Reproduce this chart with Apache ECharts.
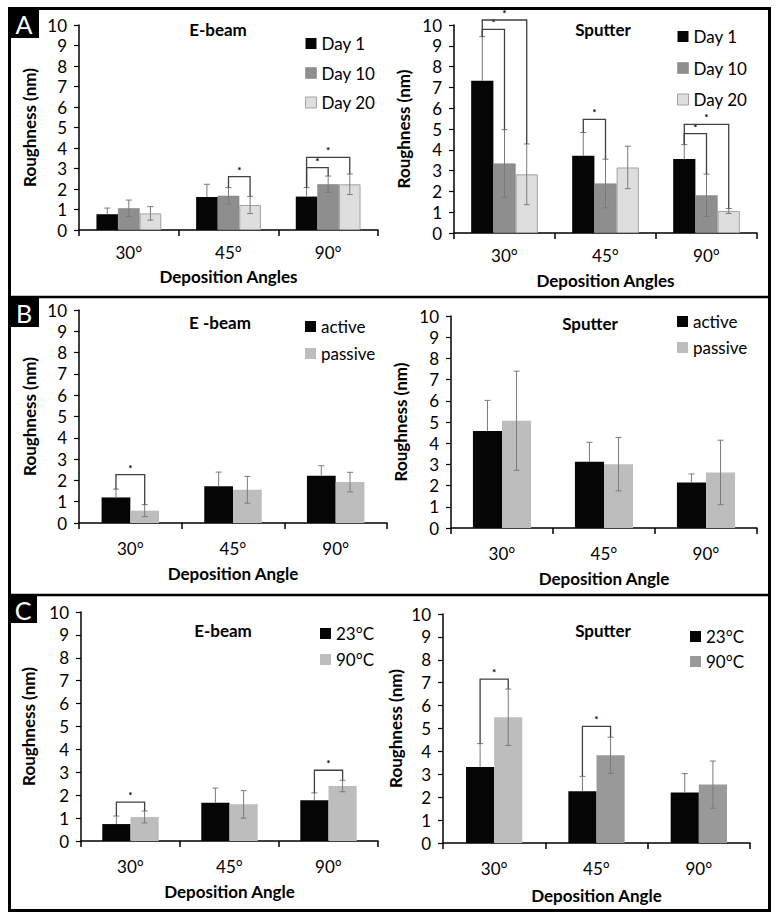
<!DOCTYPE html>
<html><head><meta charset="utf-8">
<script src="https://cdn.jsdelivr.net/npm/echarts@6/dist/echarts.min.js"></script>
<style>html,body{margin:0;padding:0;background:#fff}#c{width:781px;height:923px}</style>
</head><body><div id="c"></div>
<script>
const angles = ['30°', '45°', '90°'];

// Panel A – E-beam
const aEbeamDay1 = [0.77, 1.61, 1.63];
const aEbeamDay1Err = [0.30, 0.62, 0.44];
const aEbeamDay10 = [1.06, 1.67, 2.23];
const aEbeamDay10Err = [0.40, 0.40, 0.40];
const aEbeamDay20 = [0.81, 1.22, 2.23];
const aEbeamDay20Err = [0.33, 0.42, 0.50];
const aEbeamBrackets = [[1, 1, 2, 2.60], [2, 0, 1, 3.04], [2, 0, 2, 3.54]];
// Panel A – Sputter
const aSputDay1 = [7.32, 3.71, 3.56];
const aSputDay1Err = [2.12, 1.12, 0.69];
const aSputDay10 = [3.34, 2.38, 1.81];
const aSputDay10Err = [1.63, 1.17, 1.02];
const aSputDay20 = [2.82, 3.15, 1.06];
const aSputDay20Err = [1.46, 1.02, 0.12];
const aSputBrackets = [[0, 0, 1, 9.79], [0, 0, 2, 10.24], [1, 0, 1, 5.46], [2, 0, 1, 4.78], [2, 0, 2, 5.22]];
// Panel B – E-beam
const bEbeamActive = [1.20, 1.72, 2.22];
const bEbeamActiveErr = [0.39, 0.67, 0.47];
const bEbeamPassive = [0.58, 1.56, 1.92];
const bEbeamPassiveErr = [0.28, 0.63, 0.46];
const bEbeamBrackets = [[0, 0, 1, 2.27]];
// Panel B – Sputter
const bSputActive = [4.58, 3.13, 2.15];
const bSputActiveErr = [1.44, 0.91, 0.40];
const bSputPassive = [5.06, 3.01, 2.62];
const bSputPassiveErr = [2.34, 1.26, 1.52];
const bSputBrackets = [];
// Panel C – E-beam
const cEbeam23 = [0.74, 1.67, 1.78];
const cEbeam23Err = [0.35, 0.64, 0.32];
const cEbeam90 = [1.05, 1.60, 2.40];
const cEbeam90Err = [0.26, 0.60, 0.25];
const cEbeamBrackets = [[0, 0, 1, 1.70], [2, 0, 1, 3.09]];
// Panel C – Sputter
const cSput23 = [3.32, 2.26, 2.21];
const cSput23Err = [1.02, 0.65, 0.82];
const cSput90 = [5.49, 3.83, 2.55];
const cSput90Err = [1.23, 0.79, 1.03];
const cSputBrackets = [[0, 0, 1, 7.16], [1, 0, 1, 5.09]];

const FONT = 'Lato';
const BLACK = '#050505', DAY10 = '#8e8e8e', DAY20 = '#dedede', LIGHT = '#bdbdbd', MID = '#999999';

const chart = echarts.init(document.getElementById('c'), null, {renderer: 'svg'});

const grids = [], xAxes = [], yAxes = [], series = [], legends = [];

function errRender(n, frac) {
  return function (params, api) {
    const cat = api.value(0), s = api.value(1), v = api.value(2), e = api.value(3);
    const band = api.size([1, 0])[0];
    const w = band * frac / n;
    const cx = api.coord([cat, v])[0] + (s - (n - 1) / 2) * w;
    const yTop = api.coord([cat, v + e])[1];
    const yBot = s === 0 ? api.coord([cat, v])[1] : api.coord([cat, v - e])[1];
    const st = {stroke: '#7a7a7a', lineWidth: 1};
    const ch = [
      {type: 'line', shape: {x1: cx, y1: yTop, x2: cx, y2: yBot}, style: st},
      {type: 'line', shape: {x1: cx - 3, y1: yTop, x2: cx + 3, y2: yTop}, style: st}
    ];
    if (s !== 0) ch.push({type: 'line', shape: {x1: cx - 3, y1: yBot, x2: cx + 3, y2: yBot}, style: st});
    return {type: 'group', children: ch};
  };
}

function brRender(n, frac) {
  return function (params, api) {
    const cat = api.value(0), i = api.value(1), j = api.value(2), top = api.value(3);
    const lbI = api.value(4), lbJ = api.value(5);
    const band = api.size([1, 0])[0];
    const w = band * frac / n;
    const c0 = api.coord([cat, top]);
    const xi = c0[0] + (i - (n - 1) / 2) * w;
    const xj = c0[0] + (j - (n - 1) / 2) * w;
    const yT = c0[1];
    const yI = api.coord([cat, lbI])[1];
    const yJ = api.coord([cat, lbJ])[1];
    const st = {stroke: '#404040', lineWidth: 1.3, fill: null};
    return {type: 'group', children: [
      {type: 'polyline', shape: {points: [[xi, yI], [xi, yT], [xj, yT], [xj, yJ]]}, style: st},
      {type: 'text', style: {text: '*', x: (xi + xj) / 2, y: yT - 2, align: 'center', verticalAlign: 'bottom',
        font: 'bold 10px ' + FONT, fill: '#000'}}
    ]};
  };
}

function addChart(cfg) {
  const gi = grids.length;
  grids.push(cfg.grid);
  xAxes.push({
    type: 'category', gridIndex: gi, data: angles,
    name: cfg.xName, nameLocation: 'middle', nameGap: cfg.xNameGap,
    nameTextStyle: {fontFamily: FONT, fontWeight: 'bold', fontSize: 17, color: '#000'},
    axisLine: {lineStyle: {color: '#000', width: 1.5}},
    axisTick: {show: true, length: 6, lineStyle: {color: '#000', width: 1.5}},
    axisLabel: {fontFamily: FONT, fontSize: 17, color: '#000', margin: cfg.xLabelMargin}
  });
  yAxes.push({
    type: 'value', gridIndex: gi, min: 0, max: 10, interval: 1,
    name: 'Roughness (nm)', nameLocation: 'middle', nameGap: cfg.yNameGap,
    nameTextStyle: {fontFamily: FONT, fontWeight: 'bold', fontSize: 17, color: '#000'},
    axisLine: {show: true, lineStyle: {color: '#000', width: 1.5}},
    axisTick: {show: true, length: 5, lineStyle: {color: '#000', width: 1.2}},
    splitLine: {show: false},
    axisLabel: {fontFamily: FONT, fontSize: 17, color: '#000', margin: 12}
  });
  const n = cfg.series.length;
  const frac = 1 - cfg.gap / 100;
  const errData = [];
  cfg.series.forEach((s, si) => {
    series.push({
      type: 'bar', name: s.name, xAxisIndex: gi, yAxisIndex: gi,
      barGap: '0%', barCategoryGap: cfg.gap + '%',
      itemStyle: s.style, silent: true,
      data: s.values.map((v, k) => (s.itemOverride && s.itemOverride[k]) ? {value: v, itemStyle: s.itemOverride[k]} : v)
    });
    s.values.forEach((v, k) => errData.push([k, si, v, s.errs[k]]));
  });
  series.push({
    type: 'custom', name: 'err' + gi, xAxisIndex: gi, yAxisIndex: gi, coordinateSystem: 'cartesian2d',
    renderItem: errRender(n, frac), data: errData, encode: {x: 0, y: 2}, clip: false, silent: true, z: 5
  });
  if (cfg.brackets.length) {
    const bd = cfg.brackets.map(b => {
      const si = cfg.series[b[1]], sj = cfg.series[b[2]];
      return [b[0], b[1], b[2], b[3], si.values[b[0]] + si.errs[b[0]], sj.values[b[0]] + sj.errs[b[0]]];
    });
    series.push({
      type: 'custom', name: 'br' + gi, xAxisIndex: gi, yAxisIndex: gi, coordinateSystem: 'cartesian2d',
      renderItem: brRender(n, frac), data: bd, encode: {x: 0, y: 3}, clip: false, silent: true, z: 6
    });
  }
  legends.push({
    orient: 'vertical', left: cfg.legend.left, top: cfg.legend.top, itemGap: cfg.legend.gap,
    itemWidth: 11, itemHeight: 11, icon: 'rect', selectedMode: false, padding: 0,
    textStyle: {fontFamily: FONT, fontSize: 17, color: '#000', lineHeight: 17},
    data: cfg.series.map(s => ({name: s.name, itemStyle: s.legendStyle || s.style}))
  });
}

const day1Style = {color: BLACK};
const day10Style = {color: DAY10, borderColor: '#7d7d7d', borderWidth: 0.5};
const day20Style = {color: DAY20, borderColor: '#a3a3a3', borderWidth: 1};

addChart({
  grid: {left: 79, top: 25, width: 299, height: 205}, gap: 35,
  xName: 'Deposition Angles', xNameGap: 38, xLabelMargin: 14, yNameGap: 41,
  legend: {left: 305, top: 35, gap: 12.5},
  series: [
    {name: 'Day 1', values: aEbeamDay1, errs: aEbeamDay1Err, style: day1Style},
    {name: 'Day 10', values: aEbeamDay10, errs: aEbeamDay10Err, style: day10Style},
    {name: 'Day 20', values: aEbeamDay20, errs: aEbeamDay20Err, style: day20Style}
  ],
  brackets: aEbeamBrackets
});
addChart({
  grid: {left: 454, top: 25, width: 303, height: 208}, gap: 34,
  xName: 'Deposition Angles', xNameGap: 39, xLabelMargin: 14, yNameGap: 42,
  legend: {left: 677, top: 28, gap: 14.5},
  series: [
    {name: 'Day 1', values: aSputDay1, errs: aSputDay1Err, style: day1Style},
    {name: 'Day 10', values: aSputDay10, errs: aSputDay10Err, style: day10Style},
    {name: 'Day 20', values: aSputDay20, errs: aSputDay20Err, style: day20Style}
  ],
  brackets: aSputBrackets
});
addChart({
  grid: {left: 79, top: 310, width: 308, height: 213}, gap: 44,
  xName: 'Deposition Angle', xNameGap: 42, xLabelMargin: 17, yNameGap: 41,
  legend: {left: 305, top: 318, gap: 10},
  series: [
    {name: 'active', values: bEbeamActive, errs: bEbeamActiveErr, style: {color: BLACK}},
    {name: 'passive', values: bEbeamPassive, errs: bEbeamPassiveErr, style: {color: LIGHT}}
  ],
  brackets: bEbeamBrackets
});
addChart({
  grid: {left: 451, top: 316, width: 306, height: 212}, gap: 43,
  xName: 'Deposition Angle', xNameGap: 42, xLabelMargin: 17, yNameGap: 42,
  legend: {left: 677, top: 313, gap: 9},
  series: [
    {name: 'active', values: bSputActive, errs: bSputActiveErr, style: {color: BLACK}},
    {name: 'passive', values: bSputPassive, errs: bSputPassiveErr, style: {color: LIGHT}}
  ],
  brackets: bSputBrackets
});
addChart({
  grid: {left: 81, top: 612, width: 297, height: 229}, gap: 43,
  xName: 'Deposition Angle', xNameGap: 42, xLabelMargin: 17, yNameGap: 44,
  legend: {left: 320, top: 625, gap: 9},
  series: [
    {name: '23°C', values: cEbeam23, errs: cEbeam23Err, style: {color: BLACK}},
    {name: '90°C', values: cEbeam90, errs: cEbeam90Err, style: {color: LIGHT}}
  ],
  brackets: cEbeamBrackets
});
addChart({
  grid: {left: 443, top: 614, width: 307, height: 229}, gap: 45,
  xName: 'Deposition Angle', xNameGap: 44, xLabelMargin: 17, yNameGap: 39,
  legend: {left: 690, top: 628, gap: 8},
  series: [
    {name: '23°C', values: cSput23, errs: cSput23Err, style: {color: BLACK}},
    {name: '90°C', values: cSput90, errs: cSput90Err, style: {color: MID},
      itemOverride: [{color: LIGHT}, null, null], legendStyle: {color: MID}}
  ],
  brackets: cSputBrackets
});

function titleText(t, x, y) {
  return {type: 'text', x: x, y: y, style: {text: t, align: 'center', verticalAlign: 'middle',
    font: 'bold 17px ' + FONT, fill: '#000'}, z: 10};
}
function letterBox(t, x, y, s) {
  return {type: 'group', x: x, y: y, z: 20, children: [
    {type: 'rect', shape: {x: 0, y: 0, width: s, height: s}, style: {fill: '#000'}},
    {type: 'text', x: s / 2, y: s / 2 + 1, style: {text: t, align: 'center', verticalAlign: 'middle',
      font: '25px ' + FONT, fill: '#fff'}}
  ]};
}

const graphic = [
  {type: 'rect', shape: {x: 9.5, y: 8.5, width: 760, height: 902}, style: {fill: null, stroke: '#000', lineWidth: 3}, z: 15},
  {type: 'line', shape: {x1: 9, y1: 297, x2: 770, y2: 297}, style: {stroke: '#000', lineWidth: 2.5}, z: 15},
  {type: 'line', shape: {x1: 9, y1: 595, x2: 770, y2: 595}, style: {stroke: '#000', lineWidth: 2.5}, z: 15},
  letterBox('A', 9, 8, 30),
  letterBox('B', 9, 297, 30),
  letterBox('C', 9, 595, 28),
  titleText('E-beam', 218, 29),
  titleText('Sputter', 603, 29),
  titleText('E -beam', 220, 322),
  titleText('Sputter', 590, 323),
  titleText('E-beam', 223, 630),
  titleText('Sputter', 603, 630)
];

chart.setOption({
  animation: false,
  backgroundColor: '#fff',
  grid: grids, xAxis: xAxes, yAxis: yAxes, series: series, legend: legends, graphic: graphic
});
</script></body></html>
